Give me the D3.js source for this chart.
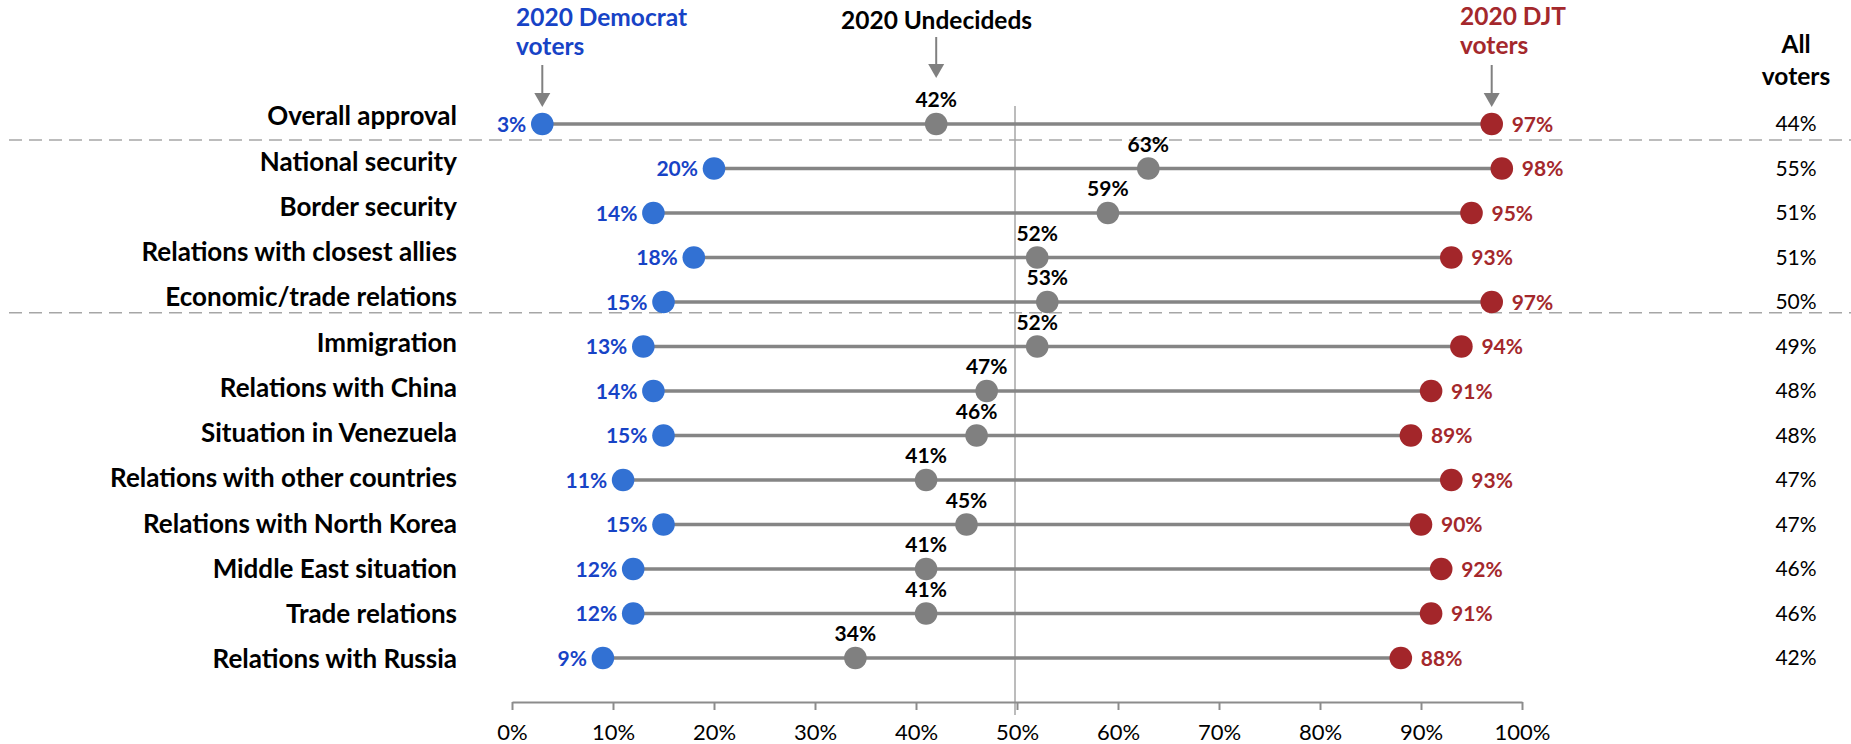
<!DOCTYPE html>
<html>
<head>
<meta charset="utf-8">
<script src="https://cdn.jsdelivr.net/npm/d3@7"></script>
<style>
  html, body { margin: 0; padding: 0; background: #ffffff; }
  svg { display: block; font-family: Lato, "Open Sans", sans-serif; }
</style>
</head>
<body>
<svg id="chart" width="1851" height="744"></svg>
<script>
const categories = ["Overall approval","National security","Border security","Relations with closest allies","Economic/trade relations","Immigration","Relations with China","Situation in Venezuela","Relations with other countries","Relations with North Korea","Middle East situation","Trade relations","Relations with Russia"];
const democratVoters = [3,20,14,18,15,13,14,15,11,15,12,12,9];
const undecidedVoters = [42,63,59,52,53,52,47,46,41,45,41,41,34];
const djtVoters = [97,98,95,93,97,94,91,89,93,90,92,91,88];
const allVoters = [44,55,51,51,50,49,48,48,47,47,46,46,42];
const tickValues = [0,10,20,30,40,50,60,70,80,90,100];
const dividerAfter = ["Overall approval","Economic/trade relations"];

const svg = d3.select("#chart");
const W = 1851, H = 744;

const x = d3.scaleLinear().domain([0, 100]).range([512, 1522]);
const y = d3.scalePoint().domain(categories).range([124, 658]);
const yLabel = d3.scalePoint().domain(categories).range([116.5, 659.5]);

const BLUE_DOT = "#3271d3", BLUE_TXT = "#1743c6";
const RED_DOT = "#a3262a", RED_TXT = "#a4282c";
const GRAY = "#808080";
const FS_VAL = 21, FS_TICK = 22, FS_CAT = 26, FS_HEAD = 24.5;

const rows = categories.map((c, i) => ({c, d: democratVoters[i], u: undecidedVoters[i], t: djtVoters[i], a: allVoters[i]}));

// dashed dividers
dividerAfter.forEach(c => {
  const i = categories.indexOf(c);
  const yy = y(c) + (y(categories[i+1]) - y(c)) * (i === 0 ? 0.36 : 0.24);
  svg.append("line").attr("x1", 9).attr("x2", W).attr("y1", yy).attr("y2", yy)
    .attr("stroke", "#a6a6a6").attr("stroke-width", 1.5).attr("stroke-dasharray", "13,7");
});

// 50% reference line
svg.append("line").attr("x1", x(50) - 2).attr("x2", x(50) - 2).attr("y1", 106).attr("y2", 715)
  .attr("stroke", "#a6a6a6").attr("stroke-width", 1.5);

// axis
const axis = d3.axisBottom(x).tickValues(tickValues).tickSize(8).tickSizeOuter(0).tickFormat(d => d + "%");
const gAxis = svg.append("g").attr("transform", "translate(0,702)").call(axis);
gAxis.select(".domain").attr("stroke", "#8c8c8c").attr("stroke-width", 2);
gAxis.selectAll(".tick line").attr("stroke", "#8c8c8c").attr("stroke-width", 2);
gAxis.selectAll(".tick text").attr("font-family", "Lato, sans-serif").attr("font-size", FS_TICK)
  .attr("fill", "#000").attr("dy", 0).attr("y", 38);

// connecting lines
svg.append("g").selectAll("line").data(rows).join("line")
  .attr("x1", r => x(r.d)).attr("x2", r => x(r.t))
  .attr("y1", r => y(r.c)).attr("y2", r => y(r.c))
  .attr("stroke", "#858585").attr("stroke-width", 3.5);

// dots
const R = 11.3;
svg.append("g").selectAll("circle").data(rows).join("circle")
  .attr("cx", r => x(r.d)).attr("cy", r => y(r.c)).attr("r", R).attr("fill", BLUE_DOT);
svg.append("g").selectAll("circle").data(rows).join("circle")
  .attr("cx", r => x(r.u)).attr("cy", r => y(r.c)).attr("r", R).attr("fill", GRAY);
svg.append("g").selectAll("circle").data(rows).join("circle")
  .attr("cx", r => x(r.t)).attr("cy", r => y(r.c)).attr("r", R).attr("fill", RED_DOT);

// category labels
svg.append("g").selectAll("text").data(rows).join("text")
  .attr("x", 457).attr("y", r => yLabel(r.c)).attr("dy", "0.34em")
  .attr("text-anchor", "end").attr("font-weight", 700).attr("font-size", FS_CAT).attr("fill", "#000")
  .text(r => r.c);

// value labels
svg.append("g").selectAll("text").data(rows).join("text")
  .attr("x", r => x(r.d) - 16).attr("y", r => y(r.c)).attr("dy", "0.36em")
  .attr("text-anchor", "end").attr("font-weight", 700).attr("font-size", FS_VAL).attr("fill", BLUE_TXT)
  .text(r => r.d + "%");
svg.append("g").selectAll("text").data(rows).join("text")
  .attr("x", r => x(r.u)).attr("y", r => y(r.c) - 17)
  .attr("text-anchor", "middle").attr("font-weight", 700).attr("font-size", FS_VAL).attr("fill", "#000")
  .text(r => r.u + "%");
svg.append("g").selectAll("text").data(rows).join("text")
  .attr("x", r => x(r.t) + 20).attr("y", r => y(r.c)).attr("dy", "0.36em")
  .attr("text-anchor", "start").attr("font-weight", 700).attr("font-size", FS_VAL).attr("fill", RED_TXT)
  .text(r => r.t + "%");
svg.append("g").selectAll("text").data(rows).join("text")
  .attr("x", 1796).attr("y", r => y(r.c) + 7)
  .attr("text-anchor", "middle").attr("font-weight", 400).attr("font-size", FS_VAL).attr("fill", "#000")
  .text(r => r.a + "%");

// headers
function header(lines, xx, ys, anchor, color) {
  lines.forEach((t, k) => {
    svg.append("text").attr("x", xx).attr("y", ys[k]).attr("text-anchor", anchor)
      .attr("font-weight", 700).attr("font-size", FS_HEAD).attr("fill", color).text(t);
  });
}
header(["2020 Democrat", "voters"], 516, [26, 55], "start", BLUE_TXT);
header(["2020 Undecideds"], 841, [29], "start", "#000");
header(["2020 DJT", "voters"], 1460, [25, 54], "start", RED_TXT);
header(["All", "voters"], 1796, [53, 85], "middle", "#000");

// arrows
function arrow(xx, y0, y1) {
  svg.append("line").attr("x1", xx).attr("x2", xx).attr("y1", y0).attr("y2", y1 - 12)
    .attr("stroke", GRAY).attr("stroke-width", 2);
  svg.append("path").attr("d", `M${xx - 8},${y1 - 14}L${xx + 8},${y1 - 14}L${xx},${y1}Z`).attr("fill", GRAY);
}
const first = rows[0];
arrow(x(first.d), 65, 107);
arrow(x(first.u), 37, 78);
arrow(x(first.t), 65, 107);
</script>
</body>
</html>
